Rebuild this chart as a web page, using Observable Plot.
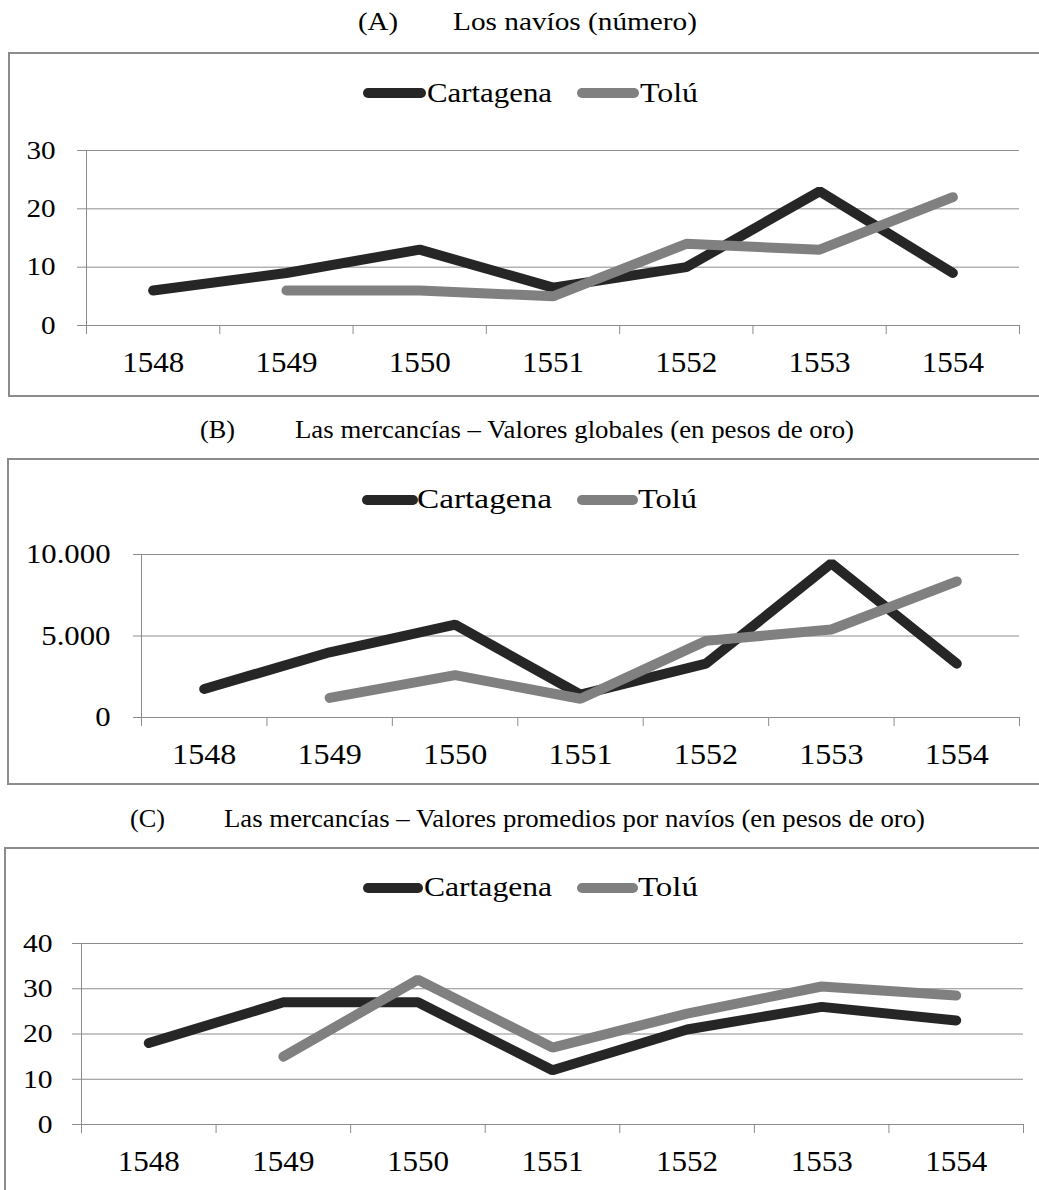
<!DOCTYPE html>
<html>
<head>
<meta charset="utf-8">
<script src="https://cdn.jsdelivr.net/npm/d3@7"></script>
<script src="https://cdn.jsdelivr.net/npm/@observablehq/plot@0.6"></script>
<style>
  html, body { margin: 0; padding: 0; background: #fff; width: 1039px; height: 1190px; overflow: hidden; position: relative; font-family: "Liberation Serif", "DejaVu Serif", "Noto Serif", Tinos, Times, serif; }
  .box { position: absolute; border: 2px solid #8c8c8c; box-sizing: border-box; }
  .sw { position: absolute; height: 10px; border-radius: 5px; }
  .t { position: absolute; white-space: nowrap; transform-origin: 0 0; color: #000; font-family: "Liberation Serif", "DejaVu Serif", "Noto Serif", Tinos, Times, serif; }
  .panel { position: absolute; left: 0; }
  .panel svg { display: block; overflow: visible; }
  .panel svg text { font-family: "Liberation Serif", "DejaVu Serif", "Noto Serif", Tinos, Times, serif; }
</style>
</head>
<body>
<script>
// ---------- data ----------
const years = [1548, 1549, 1550, 1551, 1552, 1553, 1554];
const seriesNames = ["Cartagena", "Tolú"];
const seriesColors = ["#262626", "#808080"];

const naviosCartagena = [6, 9, 13, 6.5, 10, 23, 9];
const naviosTolu      = [null, 6, 6, 5, 14, 13, 22];

const globalesCartagena = [1750, 4000, 5700, 1400, 3300, 9450, 3300];
const globalesTolu      = [null, 1200, 2600, 1150, 4700, 5400, 8350];

const promediosCartagena = [18, 27, 27, 12, 21, 26, 23];
const promediosTolu      = [null, 15, 32, 17, 24.5, 30.5, 28.5];

const yTicksA = [0, 10, 20, 30];
const yTicksB = [0, 5000, 10000];
const yTicksC = [0, 10, 20, 30, 40];

const titleA = ["(A)", "Los navíos (número)"];
const titleB = ["(B)", "Las mercancías – Valores globales (en pesos de oro)"];
const titleC = ["(C)", "Las mercancías – Valores promedios por navíos (en pesos de oro)"];

// ---------- helpers ----------
const FONT = "'Liberation Serif', 'DejaVu Serif', 'Noto Serif', Tinos, Times, serif";
const esLocale = d3.formatLocale({decimal: ",", thousands: ".", grouping: [3], currency: ["", ""]});
const fmtThousands = esLocale.format(",");
const GRID = "#8c8c8c";

function addText(txt, left, baseline, fs, targetWidth) {
  const el = document.createElement("div");
  el.className = "t";
  el.textContent = txt;
  el.style.left = left + "px";
  el.style.top = (baseline - 0.8375 * fs) + "px";
  el.style.fontSize = fs + "px";
  el.style.lineHeight = fs + "px";
  document.body.appendChild(el);
  if (targetWidth) {
    const w = el.getBoundingClientRect().width;
    el.style.transform = `scaleX(${targetWidth / w})`;
  }
}
function addBox(left, top, height) {
  const el = document.createElement("div");
  el.className = "box";
  Object.assign(el.style, {left: left + "px", top: top + "px", width: (1060 - left) + "px", height: height + "px"});
  document.body.appendChild(el);
}
function addSwatch(left, width, cy, color) {
  const el = document.createElement("div");
  el.className = "sw";
  Object.assign(el.style, {left: left + "px", width: width + "px", top: (cy - 5) + "px", background: color});
  document.body.appendChild(el);
}
function rows(vals) {
  return years.map((y, i) => ({year: y, value: vals[i]})).filter(d => d.value != null);
}
function stretchSvgText(svg, fx, fy) {
  svg.querySelectorAll("text").forEach(t => {
    if (!t.textContent) return;
    const anchor = t.closest("g[aria-label]");
    const lab = anchor ? anchor.getAttribute("aria-label") : "";
    const f = lab.includes("y-axis") ? fy : fx;
    const w = t.getComputedTextLength();
    t.setAttribute("textLength", (w * f).toFixed(2));
    t.setAttribute("lengthAdjust", "spacingAndGlyphs");
  });
}

function panel(cfg) {
  const bounds = years.map(y => y - 0.5).concat([years[years.length - 1] + 0.5]);
  const svg = Plot.plot({
    width: 1039,
    height: cfg.H,
    marginLeft: cfg.ml, marginRight: cfg.mr, marginTop: cfg.mt, marginBottom: cfg.mb,
    style: {fontFamily: FONT, background: "transparent", color: "#000"},
    x: {domain: [bounds[0], bounds[bounds.length - 1]]},
    y: {domain: [0, cfg.yTicks[cfg.yTicks.length - 1]]},
    marks: [
      Plot.gridY(cfg.yTicks, {stroke: GRID, strokeOpacity: 1, strokeWidth: 1}),
      Plot.ruleX([bounds[0]], {stroke: GRID, strokeWidth: 1}),
      Plot.axisY(cfg.yTicks, {tickSize: cfg.ytick, tickPadding: cfg.ypad, fontSize: cfg.yfs, stroke: GRID, fill: "#000", label: null, tickFormat: cfg.yfmt}),
      Plot.axisX(bounds, {tickSize: 9, tickFormat: () => "", stroke: GRID, label: null}),
      Plot.axisX(years, {tickSize: 0, tickPadding: cfg.xpad, fontSize: cfg.xfs, fill: "#000", label: null, tickFormat: d => String(d)}),
      Plot.lineY(rows(cfg.a), {x: "year", y: "value", stroke: seriesColors[0], strokeWidth: 10, strokeLinecap: "round", strokeLinejoin: "bevel"}),
      Plot.lineY(rows(cfg.b), {x: "year", y: "value", stroke: seriesColors[1], strokeWidth: 10, strokeLinecap: "round", strokeLinejoin: "bevel"})
    ]
  });
  const wrap = document.createElement("div");
  wrap.className = "panel";
  wrap.style.top = cfg.T + "px";
  wrap.appendChild(svg);
  document.body.appendChild(wrap);
  stretchSvgText(svg, cfg.fx, cfg.fy);
}

// ---------- Panel A ----------
addText(titleA[0], 358, 30.5, 26, 40);
addText(titleA[1], 453, 30.5, 26, 244);
addBox(8, 52, 345);
panel({T: 53, H: 344, ml: 86, mr: 20, mt: 97, mb: 72, yTicks: yTicksA, ytick: 9, ypad: 22, yfs: 26, xfs: 29, xpad: 26,
       yfmt: d => String(d), a: naviosCartagena, b: naviosTolu, fx: 1.07, fy: 1.12});
addSwatch(363, 63, 93, seriesColors[0]);
addText(seriesNames[0], 427, 103, 27, 125);
addSwatch(577, 62, 93, seriesColors[1]);
addText(seriesNames[1], 640, 103, 27, 58);

// ---------- Panel B ----------
addText(titleB[0], 200, 439, 26, 35);
addText(titleB[1], 295, 439, 26, 559);
addBox(7, 458, 327);
panel({T: 459, H: 325, ml: 141, mr: 20, mt: 95, mb: 67, yTicks: yTicksB, ytick: 8, ypad: 23, yfs: 27, xfs: 30, xpad: 25,
       yfmt: d => fmtThousands(d), a: globalesCartagena, b: globalesTolu, fx: 1.07, fy: 1.14});
addSwatch(362, 56, 500, seriesColors[0]);
addText(seriesNames[0], 417, 509, 27, 135);
addSwatch(577, 61, 500, seriesColors[1]);
addText(seriesNames[1], 638, 509, 27, 59);

// ---------- Panel C ----------
addText(titleC[0], 130, 828, 26, 35);
addText(titleC[1], 224, 828, 26, 701);
addBox(4, 847, 360);
panel({T: 848, H: 342, ml: 81, mr: 16, mt: 95, mb: 66, yTicks: yTicksC, ytick: 9, ypad: 20, yfs: 26, xfs: 29, xpad: 25.5,
       yfmt: d => String(d), a: promediosCartagena, b: promediosTolu, fx: 1.07, fy: 1.14});
addSwatch(363, 60, 888, seriesColors[0]);
addText(seriesNames[0], 424, 897, 27, 128);
addSwatch(577, 61, 888, seriesColors[1]);
addText(seriesNames[1], 638, 897, 27, 60);
</script>
</body>
</html>
